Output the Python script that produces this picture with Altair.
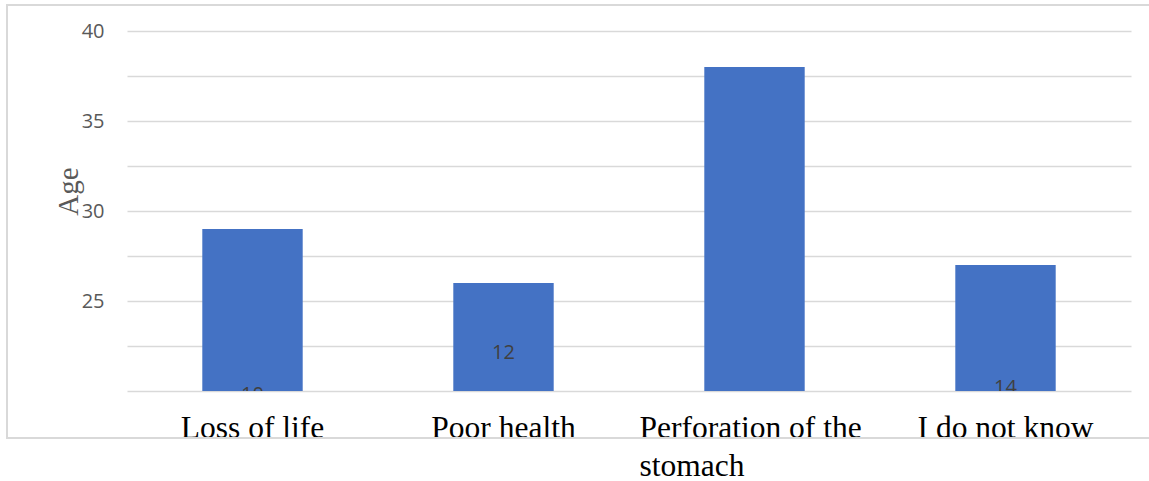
import altair as alt
import pandas as pd

# Mean age per perceived consequence
categories = ["Loss of life", "Poor health", "Perforation of the stomach", "I do not know"]
ages = [29, 26, 38, 27]

# Count labels printed near the foot of the bars
label_cats = ["Loss of life", "Poor health", "I do not know"]
label_text = ["10", "12", "14"]
label_at = [19.44, 21.78, 19.83]

bars_df = pd.DataFrame({"category": categories, "age": ages})
labels_df = pd.DataFrame({"category": label_cats, "text": label_text, "pos": label_at})

grid_values = [20, 22.5, 25, 27.5, 30, 32.5, 35, 37.5, 40]

x_enc = alt.X(
    "category:N",
    sort=categories,
    scale=alt.Scale(paddingInner=0.6, paddingOuter=0.3),
    axis=alt.Axis(
        title=None,
        domain=False,
        ticks=False,
        tickSize=0,
        grid=False,
        labelAngle=0,
        labelFont="Liberation Serif",
        labelFontSize=31.5,
        labelColor="#000000",
        labelPadding=21,
        labelLimit=400,
        labelLineHeight=38,
        labelExpr="datum.value == 'Perforation of the stomach' ? ['Perforation of the', 'stomach'] : datum.label",
        labelAlign={"condition": {"test": "datum.value == 'Perforation of the stomach'", "value": "left"}, "value": "center"},
        labelOffset={"condition": {"test": "datum.value == 'Perforation of the stomach'", "value": -115}, "value": 0},
    ),
)

y_scale = alt.Scale(domain=[20, 40], zero=False, nice=False)

bars = alt.Chart(bars_df).mark_bar(color="#4472C4", clip=True).encode(
    x=x_enc,
    y=alt.Y(
        "age:Q",
        scale=y_scale,
        axis=alt.Axis(
            title="Age",
            titleFont="Liberation Serif",
            titleFontSize=29,
            titleFontWeight="normal",
            titleColor="#595959",
            titleAngle=-90,
            titleAlign="center",
            titleBaseline="middle",
            titleX=-59,
            titleY=160,
            values=grid_values,
            labelExpr="(datum.value % 5 == 0 && datum.value > 20) ? datum.label : ''",
            labelFont="Open Sans",
            labelFontSize=20,
            labelColor="#595959",
            labelPadding=23,
            domain=False,
            ticks=False,
            tickSize=0,
            gridColor="#d9d9d9",
            gridWidth=1.4,
        ),
    ),
    y2=alt.datum(20),
)

counts = alt.Chart(labels_df).mark_text(
    font="Open Sans",
    fontSize=20,
    color="#404040",
    baseline="alphabetic",
    align="center",
    clip=True,
).encode(
    x=alt.X("category:N", sort=categories),
    y=alt.Y("pos:Q", scale=y_scale),
    text="text:N",
)

# Outer chart-area border
frame = alt.Chart(bars_df).mark_rect(
    filled=False, stroke="#d9d9d9", strokeWidth=1.5, clip=False
).encode(
    x=alt.value(-120),
    x2=alt.value(1040),
    y=alt.value(-26),
    y2=alt.value(407),
)

chart = (
    alt.layer(frame, bars, counts)
    .properties(
        width=1004,
        height=360,
        autosize=alt.AutoSizeParams(type="none"),
        padding={"left": 127, "top": 31, "right": 18, "bottom": 90},
        background="#ffffff",
    )
    .configure_view(stroke=None)
)

chart.save("out.html", embed_options={"renderer": "svg", "actions": False})
